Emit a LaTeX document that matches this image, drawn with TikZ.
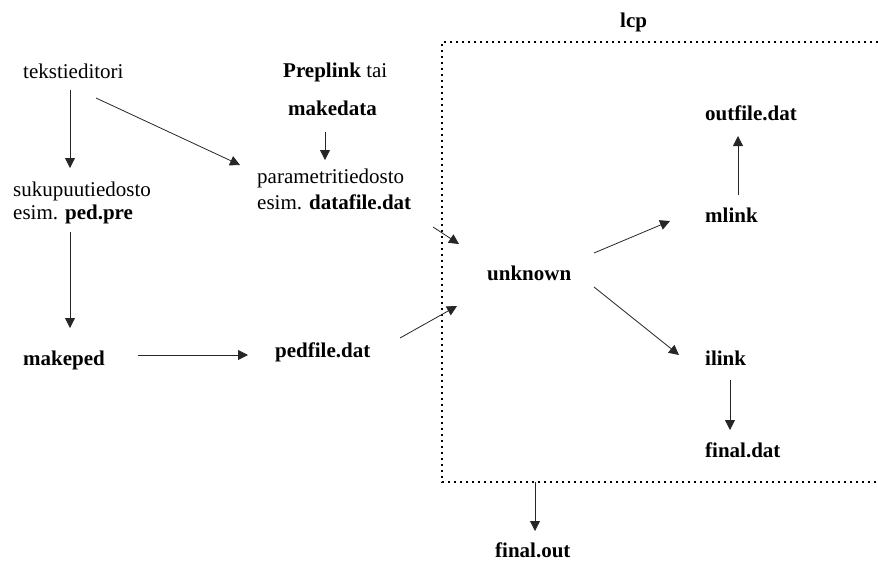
\documentclass[tikz,border=0pt]{standalone}
\usepackage{fontspec}
\setmainfont{Liberation Serif}
\usetikzlibrary{calc,arrows.meta}
\begin{document}
\begin{tikzpicture}[x=1pt,y=-1pt,
  lbl/.style={anchor=base west,inner sep=0pt,text height=14pt,text depth=4pt,
              font=\fontsize{21}{25}\selectfont},
  arr/.style={draw=black!85,line width=0.8pt,-{Triangle[length=10pt,width=10pt]}},
  dotline/.style={line width=2pt,dash pattern=on 1.6pt off 4.4pt}]
\useasboundingbox (0,0) rectangle (878,560);

% left column
\node[lbl] (teks)    at (23,78)  {tekstieditori};
\node[lbl] (suku)    at (13,196) {sukupuutiedosto};
\node[lbl] (pedpre)  at (13,219) {esim.\,\,\textbf{ped.pre}};
\node[lbl] (makeped) at (23,365) {\textbf{makeped}};

% middle column
\node[lbl] (prep)    at (283,77)  {\textbf{Preplink} tai};
\node[lbl] (maked)   at (288,115) {\textbf{makedata}};
\node[lbl] (para)    at (257,183) {parametritiedosto};
\node[lbl] (datf)    at (257,209) {esim.\,\,\textbf{datafile.dat}};
\node[lbl] (pedfile) at (275,357) {\textbf{pedfile.dat}};

% lcp box contents
\node[lbl] (lcp)   at (620,27)  {\textbf{lcp}};
\node[lbl] (unk)   at (487,280) {\textbf{unknown}};
\node[lbl] (mlink) at (705,222) {\textbf{mlink}};
\node[lbl] (outf)  at (705,120) {\textbf{outfile.dat}};
\node[lbl] (ilink) at (705,365) {\textbf{ilink}};
\node[lbl] (fdat)  at (705,457) {\textbf{final.dat}};
\node[lbl,text depth=1pt] (fout) at (495,557) {\textbf{final.out}};

% dotted frame of lcp, open to the right
\draw[dotline] (878,42) -- (442,42) -- (442,482) -- (878,482);
\coordinate (boxbot) at (535,482);

% connectors
\draw[arr] ($(teks.base west)+(47,12)$)    -- ($(suku.base west)+(57,-28)$);
\draw[arr] ($(teks.base west)+(73,20)$)    -- ($(para.base west)+(-17,-18)$);
\draw[arr] ($(maked.base west)+(37,17)$)   -- ($(para.base west)+(68,-23)$);
\draw[arr] ($(pedpre.base west)+(57,13)$)  -- ($(makeped.base west)+(47,-37)$);
\draw[arr] ($(makeped.base west)+(115,-10)$) -- ($(pedfile.base west)+(-27,-2)$);
\draw[arr] ($(datf.base west)+(176,18)$)   -- ($(unk.base west)+(-28,-36)$);
\draw[arr] ($(pedfile.base west)+(125,-19)$) -- ($(unk.base west)+(-30,26)$);
\draw[arr] ($(unk.base west)+(107,-27)$)   -- ($(mlink.base west)+(-35,-1)$);
\draw[arr] ($(mlink.base west)+(33,-27)$)  -- ($(outf.base west)+(33,16)$);
\draw[arr] ($(unk.base west)+(107,7)$)     -- ($(ilink.base west)+(-26,-10)$);
\draw[arr] ($(ilink.base west)+(25,15)$)   -- ($(fdat.base west)+(25,-27)$);
\draw[arr] (boxbot) -- ($(fout.base west)+(40,-26)$);
\end{tikzpicture}
\end{document}
